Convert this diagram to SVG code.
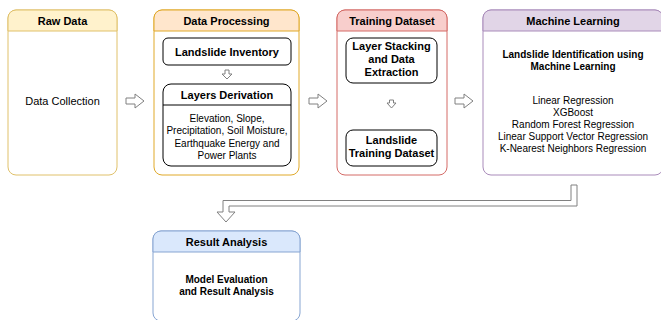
<svg xmlns="http://www.w3.org/2000/svg" width="661" height="320" viewBox="0 0 661 320">
<style>
text{font-family:"Liberation Sans",Arial,sans-serif;font-size:11px;fill:#000;text-anchor:middle;dominant-baseline:central}
.b{font-weight:bold}
.t{font-weight:bold}
.s{font-size:10px}
.sb{font-size:10px;font-weight:bold}
.in{fill:#fff;stroke:#000;stroke-width:1}
.arr{fill:#fff;stroke:#808080;stroke-width:1;stroke-linejoin:miter}
</style>
<rect width="661" height="320" fill="#fff"/>
<g id="raw-data">
<rect x="8" y="10" width="109" height="165" rx="8" fill="#fff" stroke="#e0c16a"/>
<path d="M8 31 V18 a8 8 0 0 1 8 -8 H109 a8 8 0 0 1 8 8 V31 Z" fill="#fff2cc" stroke="#e0c16a"/>
<text class="t" x="62.5" y="21">Raw Data</text>
<text x="62.5" y="101">Data Collection</text>
</g>
<g id="data-processing">
<rect x="154" y="10" width="145" height="165" rx="8" fill="#fff" stroke="#e0a929"/>
<path d="M154 31 V18 a8 8 0 0 1 8 -8 H291 a8 8 0 0 1 8 8 V31 Z" fill="#ffe6cc" stroke="#e0a929"/>
<text class="t" x="226.5" y="21">Data Processing</text>
</g>
<g id="landslide-inventory">
<rect class="in" x="163" y="38" width="128" height="27" rx="5"/>
<text class="b" x="227" y="51.5">Landslide Inventory</text>
</g>
<g id="layers-derivation">
<rect class="in" x="163" y="84" width="128" height="82" rx="8"/>
<line x1="163" y1="105" x2="291" y2="105" stroke="#000"/>
<text class="b" x="227" y="95">Layers Derivation</text>
<text class="s" x="227" y="118">Elevation, Slope,</text>
<text class="s" x="227" y="130.5">Precipitation, Soil Moisture,</text>
<text class="s" x="227" y="143">Earthquake Energy and</text>
<text class="s" x="227" y="155">Power Plants</text>
</g>
<g id="training-dataset">
<rect x="337" y="10" width="110" height="165" rx="8" fill="#fff" stroke="#d46a66"/>
<path d="M337 31 V18 a8 8 0 0 1 8 -8 H439 a8 8 0 0 1 8 8 V31 Z" fill="#f8cecc" stroke="#d46a66"/>
<text class="t" x="392" y="21">Training Dataset</text>
</g>
<g id="layer-stacking">
<rect class="in" x="346" y="38" width="91" height="45" rx="7"/>
<text class="t" x="391.5" y="46">Layer Stacking</text>
<text class="t" x="391.5" y="59">and Data</text>
<text class="t" x="391.5" y="72">Extraction</text>
</g>
<g id="landslide-training-dataset">
<rect class="in" x="346" y="130" width="91" height="36" rx="7"/>
<text class="t" x="391.5" y="140">Landslide</text>
<text class="t" x="391.5" y="153">Training Dataset</text>
</g>
<g id="machine-learning">
<rect x="483" y="10" width="180" height="165" rx="8" fill="#fff" stroke="#a98bba"/>
<path d="M483 31 V18 a8 8 0 0 1 8 -8 H655 a8 8 0 0 1 8 8 V31 Z" fill="#e1d5e7" stroke="#a98bba"/>
<text class="t" x="573" y="21">Machine Learning</text>
<text class="sb" x="573" y="54">Landslide Identification using</text>
<text class="sb" x="573" y="66.5">Machine Learning</text>
<text class="s" x="573" y="100">Linear Regression</text>
<text class="s" x="573" y="112">XGBoost</text>
<text class="s" x="573" y="124.5">Random Forest Regression</text>
<text class="s" x="573" y="136.5">Linear Support Vector Regression</text>
<text class="s" x="573" y="148.5">K-Nearest Neighbors Regression</text>
</g>
<g id="result-analysis">
<rect x="153" y="231" width="147" height="90" rx="8" fill="#fff" stroke="#87a5d2"/>
<path d="M153 252 V239 a8 8 0 0 1 8 -8 H292 a8 8 0 0 1 8 8 V252 Z" fill="#dae8fc" stroke="#87a5d2"/>
<text class="t" x="226.5" y="242">Result Analysis</text>
<text class="sb" x="226.5" y="279">Model Evaluation</text>
<text class="sb" x="226.5" y="291">and Result Analysis</text>
</g>
<g id="connectors">
<path class="arr" d="M126 98 H135 V94 L144 101 L135 108 V104 H126 Z"/>
<path class="arr" d="M309 98 H318 V94 L327 101 L318 108 V104 H309 Z"/>
<path class="arr" d="M455 98 H464 V94 L473 101 L464 108 V104 H455 Z"/>
<path class="arr" d="M225 70 H229 V74 H232 L227 79 L222 74 H225 Z"/>
<path class="arr" d="M389.5 100 H393.5 V103 H396 L391.5 108 L387 103 H389.5 Z"/>
<path class="arr" d="M571 185 H577 V206 H229 V212 H235 L226 222 L217 212 H223 V200.5 H571 Z"/>
</g>
</svg>
